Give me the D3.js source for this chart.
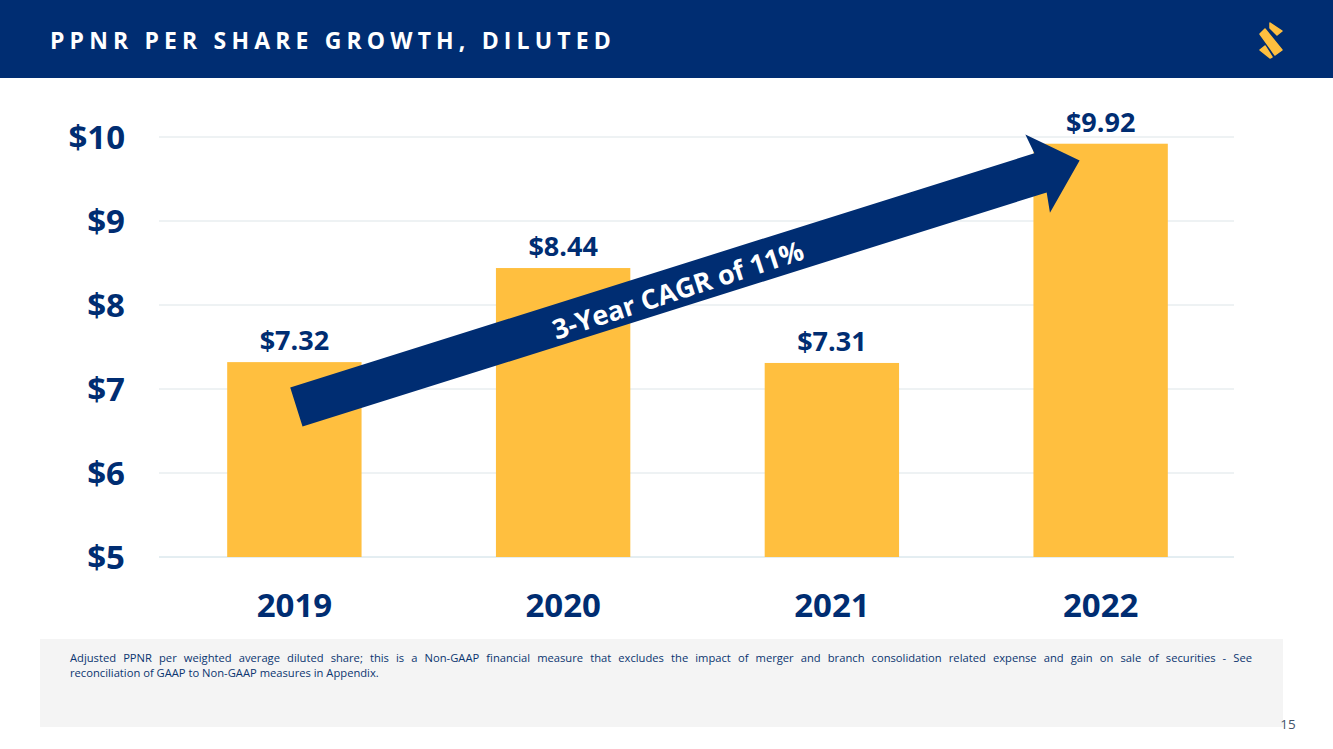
<!DOCTYPE html>
<html><head><meta charset="utf-8">
<script src="https://cdn.jsdelivr.net/npm/d3@7/dist/d3.min.js"></script>
<style>
html,body{margin:0;padding:0;background:#fff;overflow:hidden}
svg{display:block;position:absolute;left:0;top:0}
#note{position:absolute;left:70px;top:650px;width:1182px;font:11.2px/15px "Open Sans",sans-serif;color:#0b3470}
#note div:first-child{text-align:justify;text-align-last:justify}
</style></head><body>
<svg id="c" width="1333" height="749"></svg>
<div id="note"></div>
<script>
const years = ["2019","2020","2021","2022"];
const values = [7.32,8.44,7.31,9.92];
const valueLabels = ["$7.32","$8.44","$7.31","$9.92"];
const yTicks = [5,6,7,8,9,10];
const titleText = "PPNR PER SHARE GROWTH, DILUTED";
const arrowLabel = "3-Year CAGR of 11%";
const noteLines = ["Adjusted PPNR per weighted average diluted share; this is a Non-GAAP financial measure that excludes the impact of merger and branch consolidation related expense and gain on sale of securities - See","reconciliation of GAAP to Non-GAAP measures in Appendix."];
const pageNumber = "15";

const navy="#002d72", gold="#ffbf3f", font='"Open Sans",sans-serif';
const svg=d3.select("#c");
svg.append("rect").attr("width",1333).attr("height",78).attr("fill",navy);
svg.append("text").attr("x",50).attr("y",49).attr("fill","#fff")
  .style("font",`700 23px ${font}`).style("letter-spacing","5.15px").text(titleText);

// logo
const logo=svg.append("g").attr("fill",gold).attr("stroke",gold).attr("stroke-width",1.5).attr("stroke-linejoin","round");
logo.append("path").attr("d","M1260 34 L1265 29 L1282 50 L1275 55 Z");
logo.append("path").attr("d","M1270 23 L1282 31 L1277 35 L1270 28 Z");
logo.append("path").attr("d","M1260 50 L1265 46 L1272 57 L1270 58 Z");

const x=d3.scaleBand().domain(years).range([160,1235]).paddingInner(0.5).paddingOuter(0.25);
const y=d3.scaleLinear().domain([5,10]).range([557,137]);

svg.append("g").selectAll("line").data(yTicks).join("line")
  .attr("x1",159).attr("x2",1234).attr("y1",d=>y(d)).attr("y2",d=>y(d))
  .attr("stroke",d=>d===5?"#c9dce4":"#dde5e8").attr("stroke-width",1);

const yAxis=d3.axisLeft(y).tickValues(yTicks).tickSize(0).tickPadding(0).tickFormat(d=>"$"+d);
const gy=svg.append("g").attr("transform","translate(125,0)").call(yAxis);
gy.select(".domain").remove();
gy.selectAll("text").attr("fill",navy).attr("dy","0.35em").style("font",`700 33px ${font}`);

const xAxis=d3.axisBottom(x).tickSize(0).tickPadding(0);
const gx=svg.append("g").attr("transform","translate(0,594)").call(xAxis);
gx.select(".domain").remove();
gx.selectAll("text").attr("fill",navy).attr("dy","0.71em").style("font",`700 33px ${font}`);

svg.append("g").selectAll("rect").data(values).join("rect")
  .attr("x",(d,i)=>x(years[i])).attr("width",x.bandwidth())
  .attr("y",d=>y(d)).attr("height",d=>y(5)-y(d)).attr("fill",gold);

svg.append("g").selectAll("text").data(values).join("text")
  .attr("x",(d,i)=>x(years[i])+x.bandwidth()/2).attr("y",d=>y(d)-12)
  .attr("text-anchor","middle").attr("fill",navy)
  .style("font",`700 27px ${font}`).text((d,i)=>valueLabels[i]);

// trend arrow: start and tip anchored on the chart scales
const sx=x("2019")+x.bandwidth()/2+2, sy=y(6.786);
const tx=x("2022")+x.bandwidth()/2-21, ty=y(9.72);
const len=Math.hypot(tx-sx,ty-sy), ang=Math.atan2(ty-sy,tx-sx)*180/Math.PI;
const hw=20.5, hhw=41, hl=41;
const pts=[[0,-hw],[len-hl,-hw],[len-hl-3,-hhw],[len,0],[len-hl-3,hhw],[len-hl,hw],[0,hw]];
const ag=svg.append("g").attr("transform",`translate(${sx},${sy}) rotate(${ang})`);
ag.append("polygon").attr("points",pts.join(" ")).attr("fill",navy);
svg.append("text").attr("transform","translate(678,290) rotate(-18)")
  .attr("text-anchor","middle").attr("dy","0.36em").attr("fill","#fff")
  .style("font",`700 27px ${font}`).text(arrowLabel);

// footer
svg.append("rect").attr("x",40).attr("y",639).attr("width",1243).attr("height",88).attr("fill","#f4f4f4");
d3.select("#note").selectAll("div").data(noteLines).join("div").text(d=>d);
svg.append("text").attr("x",1288).attr("y",729).attr("text-anchor","middle").attr("fill","#44546a")
  .style("font",`400 13.5px ${font}`).text(pageNumber);
</script>
</body></html>
